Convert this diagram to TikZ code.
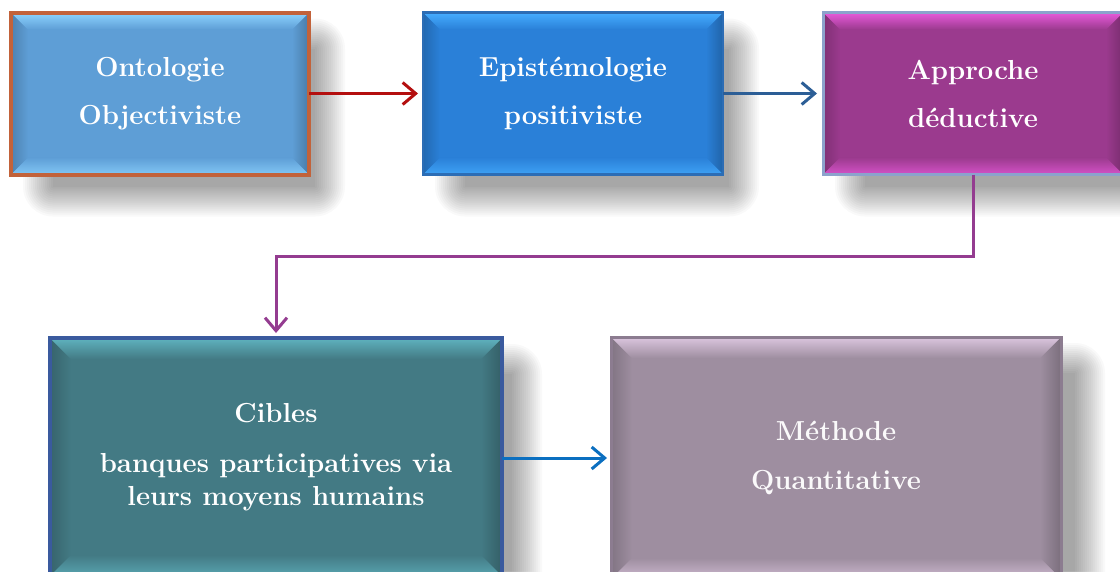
\documentclass[tikz,border=0pt]{standalone}
\usetikzlibrary{arrows.meta,calc}
\pgfdeclarelayer{bg}
\pgfdeclarelayer{shadow}
\pgfsetlayers{bg,shadow,main}

\definecolor{onefill}{HTML}{5E9ED6}
\definecolor{onelight}{HTML}{8DD4FF}
\definecolor{oneborder}{HTML}{C2623A}
\definecolor{twofill}{HTML}{2A80D8}
\definecolor{twolight}{HTML}{45ADFF}
\definecolor{twoborder}{HTML}{2C6DB5}
\definecolor{threefill}{HTML}{9B3A8E}
\definecolor{threelight}{HTML}{E85ADB}
\definecolor{threeborder}{HTML}{8CA2CC}
\definecolor{fourfill}{HTML}{437A84}
\definecolor{fourlight}{HTML}{5FB3BF}
\definecolor{fourborder}{HTML}{3A5A9E}
\definecolor{fivefill}{HTML}{9E8EA0}
\definecolor{fivelight}{HTML}{DCC6DF}
\definecolor{fiveborder}{HTML}{8C7C90}
\definecolor{arrred}{HTML}{B40F0F}
\definecolor{arrsteel}{HTML}{2C5E96}
\definecolor{arrpurple}{HTML}{943C90}
\definecolor{arrblue}{HTML}{0B6FC0}

% soft drop shadow behind a node: #1 node, #2 right offset, #3 bottom offset
\newcommand\castshadow[3]{%
  \foreach \r in {0,2,...,30}{%
    \fill[black,opacity=0.024,rounded corners=\r pt]
      ([xshift={(42-\r)*1pt},yshift={-(36-\r)*1pt}]#1.north west)
      rectangle ([xshift={(#2+\r)*1pt},yshift={-(#3+\r)*1pt}]#1.south east);
  }}

\begin{document}
\begin{tikzpicture}[x=1pt,y=-1pt,
  bevelbox/.style n args={5}{rectangle, inner sep=0pt, outer sep=0pt,
    fill=#1, draw=#3, line width=#4, text=white, align=center,
    font=\bfseries\fontsize{27.5}{48}\selectfont,
    path picture={
      \path (path picture bounding box.north west) coordinate (pa)
            (path picture bounding box.south east) coordinate (pc);
      \path (pa -| pc) coordinate (pb) (pa |- pc) coordinate (pd);
      % left and right bevels
      \shade[left color=#1!82!black, right color=#1]
        (pa) -- ([shift={(#5,-#5)}]pa) -- ([shift={(#5,#5)}]pd) -- (pd) -- cycle;
      \shade[left color=#1, right color=#1!78!black]
        (pb) -- ([shift={(-#5,-#5)}]pb) -- ([shift={(-#5,#5)}]pc) -- (pc) -- cycle;
      % top and bottom bevels
      \shade[top color=#2, bottom color=#1]
        (pa) -- (pb) -- ([shift={(-#5,-#5)}]pb) -- ([shift={(#5,-#5)}]pa) -- cycle;
      \shade[top color=#1, bottom color=#2!75!#1]
        (pd) -- (pc) -- ([shift={(-#5,#5)}]pc) -- ([shift={(#5,#5)}]pd) -- cycle;
    }},
  link/.style={line width=3pt, -{Straight Barb[length=13pt,width=22pt]}}
]
\useasboundingbox (0,0) rectangle (1120,571);
\begin{pgfonlayer}{bg}
  \fill[white] (0,0) rectangle (1120,571);
\end{pgfonlayer}

% upper row
\node[bevelbox={onefill}{onelight}{oneborder}{4pt}{17pt},
      minimum width=298pt, minimum height=162pt] (onto) at (160,93.5)
      {Ontologie\\Objectiviste};
\node[bevelbox={twofill}{twolight}{twoborder}{2.5pt}{17pt},
      minimum width=300pt, minimum height=162pt] (epis) at (573,93.5)
      {Epistémologie\\positiviste};
\node[bevelbox={threefill}{threelight}{threeborder}{3pt}{17pt},
      minimum width=300pt, minimum height=162pt] (appr) at (973,93.5)
      {Approche\\déductive};

% lower row
\node[bevelbox={fourfill}{fourlight}{fourborder}{4pt}{21pt},
      minimum width=452pt, minimum height=238pt,
      font=\bfseries\fontsize{27.5}{33}\selectfont] (cibl) at (276,457)
      {Cibles\\[17pt]banques participatives via\\leurs moyens humains};
\node[bevelbox={fivefill}{fivelight}{fiveborder}{3pt}{21pt},
      minimum width=450pt, minimum height=242pt, text=white!95!fivefill,
      font=\bfseries\fontsize{27.5}{49}\selectfont] (meth) at (836,458)
      {Méthode\\Quantitative};

\begin{pgfonlayer}{shadow}
  \castshadow{onto}{6}{12}
  \castshadow{epis}{6}{12}
  \castshadow{appr}{6}{12}
  \castshadow{cibl}{10}{14}
  \castshadow{meth}{14}{14}
\end{pgfonlayer}

% connectors
\draw[link, arrred, shorten >=5pt] (onto.east) -- (epis.west);
\draw[link, arrsteel, shorten >=6pt] (epis.east) -- (appr.west);
\coordinate (bend) at (973,256);
\draw[link, arrpurple, shorten >=5pt, line join=miter]
  (appr.south) -- (bend) -| (cibl.north);
\draw[link, arrblue, shorten >=4pt] (cibl.east |- 0,458) -- (meth.west |- 0,458);
\end{tikzpicture}
\end{document}
